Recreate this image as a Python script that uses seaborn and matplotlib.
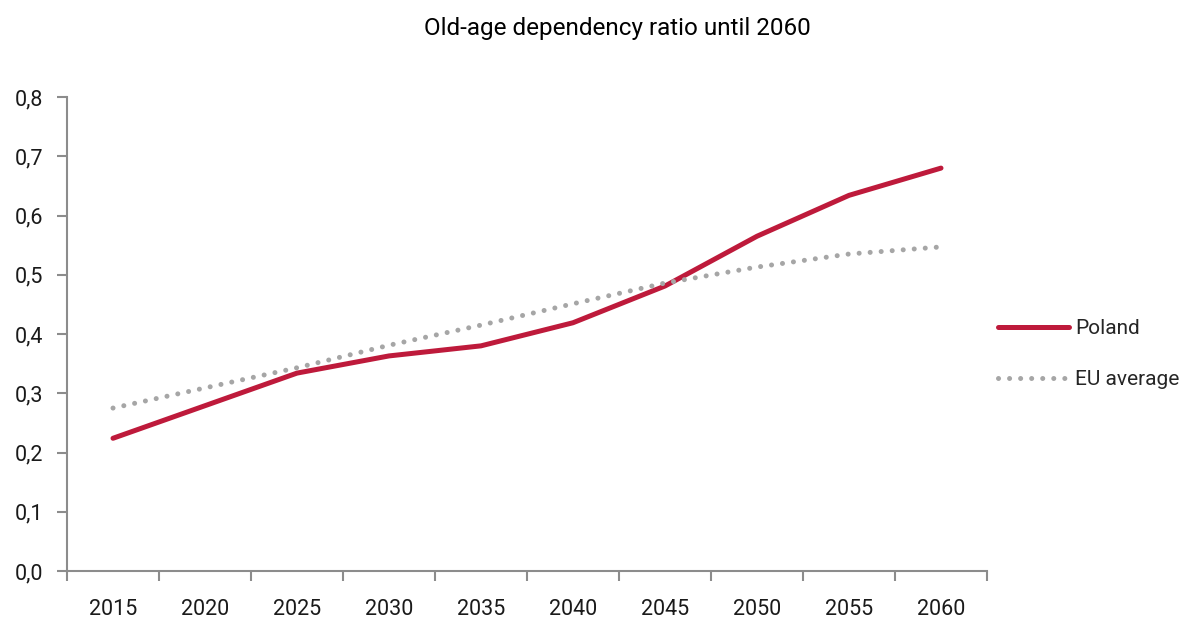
import matplotlib
matplotlib.use("Agg")
import matplotlib.pyplot as plt
import seaborn as sns
import pandas as pd
from matplotlib.ticker import FixedLocator, FuncFormatter

years = ["2015", "2020", "2025", "2030", "2035", "2040", "2045", "2050", "2055", "2060"]
poland = [0.224, 0.279, 0.334, 0.363, 0.380, 0.419, 0.481, 0.565, 0.634, 0.680]
eu_average = [0.275, 0.309, 0.343, 0.381, 0.415, 0.451, 0.486, 0.513, 0.535, 0.547]
y_ticks = [0.0, 0.1, 0.2, 0.3, 0.4, 0.5, 0.6, 0.7, 0.8]

red = "#BE1A3B"
grey = "#A6A6A6"
axis_grey = "#8C8C8C"

sns.set_style("white")
plt.rcParams["font.family"] = ["Roboto", "DejaVu Sans"]

df_pl = pd.DataFrame({"year": years, "value": poland})
df_eu = pd.DataFrame({"year": years, "value": eu_average})

fig = plt.figure(figsize=(11.96, 6.2), dpi=100)
ax = fig.add_axes([67 / 1196, 49 / 620, 920 / 1196, 474 / 620])

sns.lineplot(data=df_pl, x="year", y="value", ax=ax, color=red, linewidth=3.6,
             sort=False, label="Poland", solid_capstyle="round")
sns.lineplot(data=df_eu, x="year", y="value", ax=ax, color=grey, linewidth=3.6,
             sort=False, label="EU average", dashes=False)
ax.lines[1].set_linestyle((0, (0.01, 2.2)))
ax.lines[1].set_dash_capstyle("round")

ax.set_xlim(-0.5, len(years) - 0.5)
ax.set_ylim(0, 0.8)
ax.set_yticks(y_ticks)
ax.yaxis.set_major_formatter(FuncFormatter(lambda v, p: f"{v:.1f}".replace(".", ",")))
ax.set_xticks(range(len(years)))
ax.set_xticklabels(years)
ax.xaxis.set_minor_locator(FixedLocator([i - 0.5 for i in range(len(years) + 1)]))
ax.tick_params(axis="x", which="major", bottom=True, length=0, pad=20, labelsize=15.5,
               colors="#1a1a1a")
ax.tick_params(axis="x", which="minor", bottom=True, length=7, width=1.5,
               color=axis_grey, direction="out")
ax.tick_params(axis="y", which="major", left=True, length=7, width=1.5, color=axis_grey,
               direction="out", labelsize=15.5, labelcolor="#1a1a1a", pad=10)
ax.set_xlabel("")
ax.set_ylabel("")

sns.despine(ax=ax, top=True, right=True)
for side in ["left", "bottom"]:
    ax.spines[side].set_color(axis_grey)
    ax.spines[side].set_linewidth(1.5)

ax.legend(loc="center left", bbox_to_anchor=(998 / 1196, 1 - 354 / 620),
          bbox_transform=fig.transFigure, frameon=False, fontsize=15,
          handlelength=3.4, handletextpad=0.3, labelspacing=1.55, borderaxespad=0,
          borderpad=0)

fig.text(617 / 1196, 1 - 28 / 620, "Old-age dependency ratio until 2060",
         ha="center", va="center", fontsize=17.5, color="black")

plt.savefig("out.png", dpi=100)
